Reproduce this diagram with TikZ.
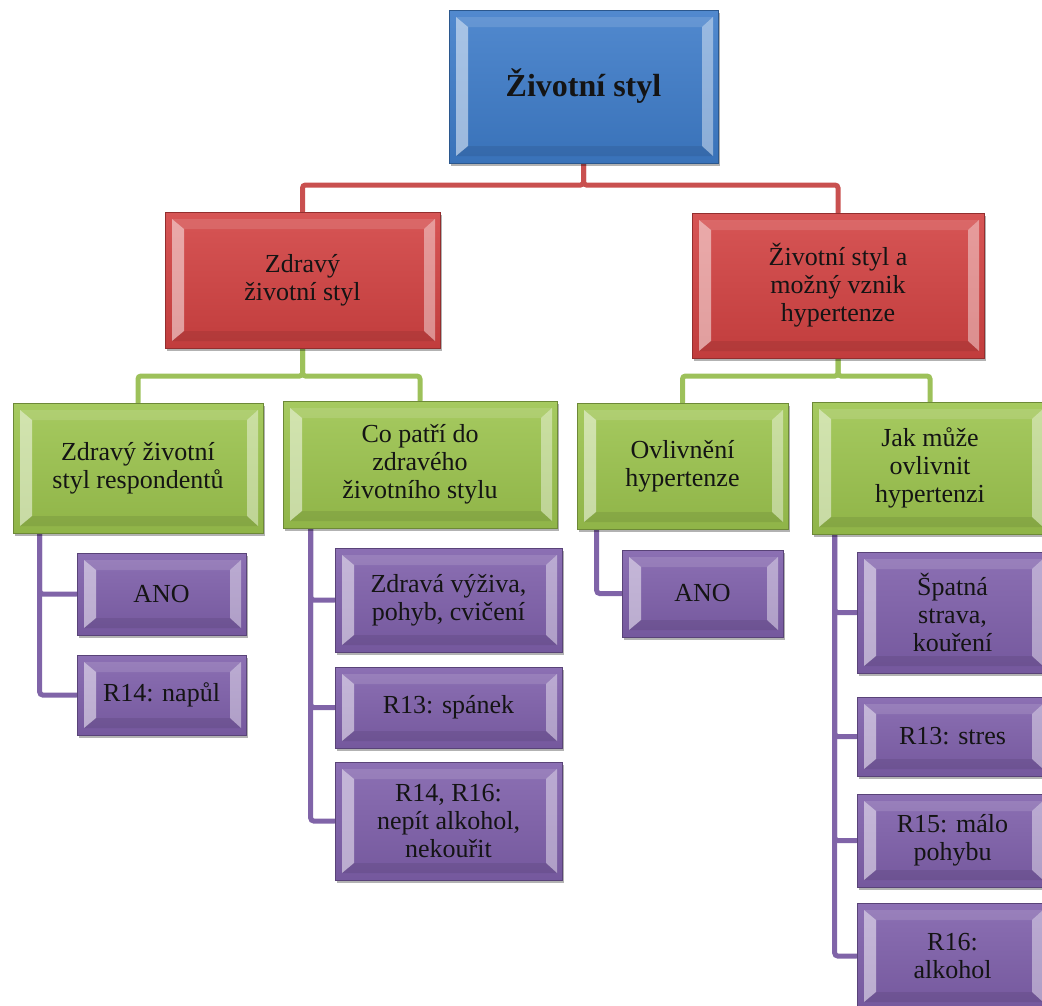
\documentclass[tikz,border=0pt]{standalone}
\usepackage{fontspec}
\setmainfont{Liberation Serif}
\usetikzlibrary{shadows,backgrounds}
\definecolor{bluec}{HTML}{3E7CC9}
\definecolor{redc}{HTML}{D24242}
\definecolor{greenc}{HTML}{9CC44E}
\definecolor{purplec}{HTML}{7F60AB}
\definecolor{redln}{HTML}{C9504F}
\definecolor{greenln}{HTML}{9DC15A}
\definecolor{purpleln}{HTML}{8064A8}
\tikzset{
  bevelbox/.style={
    inner sep=0pt, align=center, text=black!92,
    font=\fontsize{26}{28}\selectfont,
    top color=#1!90!white, bottom color=#1!92!black,
    draw=#1!70!black, line width=0.6pt,
    drop shadow={shadow xshift=2pt,shadow yshift=-3pt,opacity=0.3,fill=black},
    path picture={
      \coordinate (oNW) at ([shift={(7pt,-7pt)}]path picture bounding box.north west);
      \coordinate (oNE) at ([shift={(-5pt,-7pt)}]path picture bounding box.north east);
      \coordinate (oSW) at ([shift={(7pt,7pt)}]path picture bounding box.south west);
      \coordinate (oSE) at ([shift={(-5pt,7pt)}]path picture bounding box.south east);
      \coordinate (iNW) at ([shift={(19pt,-17pt)}]path picture bounding box.north west);
      \coordinate (iNE) at ([shift={(-16pt,-17pt)}]path picture bounding box.north east);
      \coordinate (iSW) at ([shift={(19pt,17pt)}]path picture bounding box.south west);
      \coordinate (iSE) at ([shift={(-16pt,17pt)}]path picture bounding box.south east);
      \fill[white,opacity=0.5] (oNW) -- (oSW) -- (iSW) -- (iNW) -- cycle;
      \fill[white,opacity=0.42] (oNE) -- (oSE) -- (iSE) -- (iNE) -- cycle;
      \fill[white,opacity=0.12] (oNW) -- (oNE) -- (iNE) -- (iNW) -- cycle;
      \fill[black,opacity=0.08] (oSW) -- (oSE) -- (iSE) -- (iSW) -- cycle;
    }
  },
  conn/.style={line width=5pt, draw=#1, rounded corners=3pt, line cap=round}
}
\begin{document}
\begin{tikzpicture}[x=1pt,y=-1pt]
\useasboundingbox (0,0) rectangle (1042,1005);
\clip (0,0) rectangle (1042,1005);
% level 0
\node[bevelbox=bluec, minimum width=269pt, minimum height=153pt,
      font=\bfseries\fontsize{32}{36}\selectfont] (root) at (583.5,86.5) {Životní styl};
% level 1
\node[bevelbox=redc, minimum width=275pt, minimum height=136pt] (redL) at (302.5,280) {Zdravý\\životní styl};
\node[bevelbox=redc, minimum width=292pt, minimum height=145pt] (redR) at (838,285.5) {Životní styl a\\možný vznik\\hypertenze};
% level 2
\node[bevelbox=greenc, minimum width=250pt, minimum height=130pt] (g1) at (138,468) {Zdravý životní\\styl respondentů};
\node[bevelbox=greenc, minimum width=274pt, minimum height=127pt] (g2) at (420,464.5) {Co patří do\\zdravého\\životního stylu};
\node[bevelbox=greenc, minimum width=211pt, minimum height=126pt] (g3) at (682.5,466) {Ovlivnění\\hypertenze};
\node[bevelbox=greenc, minimum width=236pt, minimum height=132pt] (g4) at (930,468) {Jak může\\ovlivnit\\hypertenzi};
% level 3
\node[bevelbox=purplec, minimum width=169pt, minimum height=82pt] (p11) at (161.5,594) {ANO};
\node[bevelbox=purplec, minimum width=169pt, minimum height=80pt] (p12) at (161.5,695) {R14: napůl};
\node[bevelbox=purplec, minimum width=227pt, minimum height=104pt] (p21) at (448.5,600) {Zdravá výživa,\\pohyb, cvičení};
\node[bevelbox=purplec, minimum width=227pt, minimum height=81pt] (p22) at (448.5,707.5) {R13: spánek};
\node[bevelbox=purplec, minimum width=227pt, minimum height=118pt] (p23) at (448.5,821) {R14, R16:\\nepít alkohol,\\nekouřit};
\node[bevelbox=purplec, minimum width=161pt, minimum height=87pt] (p31) at (702.5,593.5) {ANO};
\node[bevelbox=purplec, minimum width=191pt, minimum height=121pt] (p41) at (952.5,612.5) {Špatná\\strava,\\kouření};
\node[bevelbox=purplec, minimum width=191pt, minimum height=79pt] (p42) at (952.5,736.5) {R13: stres};
\node[bevelbox=purplec, minimum width=191pt, minimum height=93pt] (p43) at (952.5,840.5) {R15: málo\\pohybu};
\node[bevelbox=purplec, minimum width=191pt, minimum height=106pt] (p44) at (952.5,956) {R16:\\alkohol};
% connectors
\begin{pgfonlayer}{background}
\draw[conn=redln] (root.south) -- (root.south |- 0,185) -| (redL.north);
\draw[conn=redln] (root.south) -- (root.south |- 0,185) -| (redR.north);
\draw[conn=greenln] (redL.south) -- (redL.south |- 0,376) -| (g1.north);
\draw[conn=greenln] (redL.south) -- (redL.south |- 0,376) -| (g2.north);
\draw[conn=greenln] (redR.south) -- (redR.south |- 0,376) -| (g3.north);
\draw[conn=greenln] (redR.south) -- (redR.south |- 0,376) -| (g4.north);
\draw[conn=purpleln] ([xshift=27pt]g1.south west) |- (p11.west);
\draw[conn=purpleln] ([xshift=27pt]g1.south west) |- (p12.west);
\draw[conn=purpleln] ([xshift=28pt]g2.south west) |- (p21.west);
\draw[conn=purpleln] ([xshift=28pt]g2.south west) |- (p22.west);
\draw[conn=purpleln] ([xshift=28pt]g2.south west) |- (p23.west);
\draw[conn=purpleln] ([xshift=20pt]g3.south west) |- (p31.west);
\draw[conn=purpleln] ([xshift=23pt]g4.south west) |- (p41.west);
\draw[conn=purpleln] ([xshift=23pt]g4.south west) |- (p42.west);
\draw[conn=purpleln] ([xshift=23pt]g4.south west) |- (p43.west);
\draw[conn=purpleln] ([xshift=23pt]g4.south west) |- (p44.west);
\end{pgfonlayer}
\end{tikzpicture}
\end{document}
